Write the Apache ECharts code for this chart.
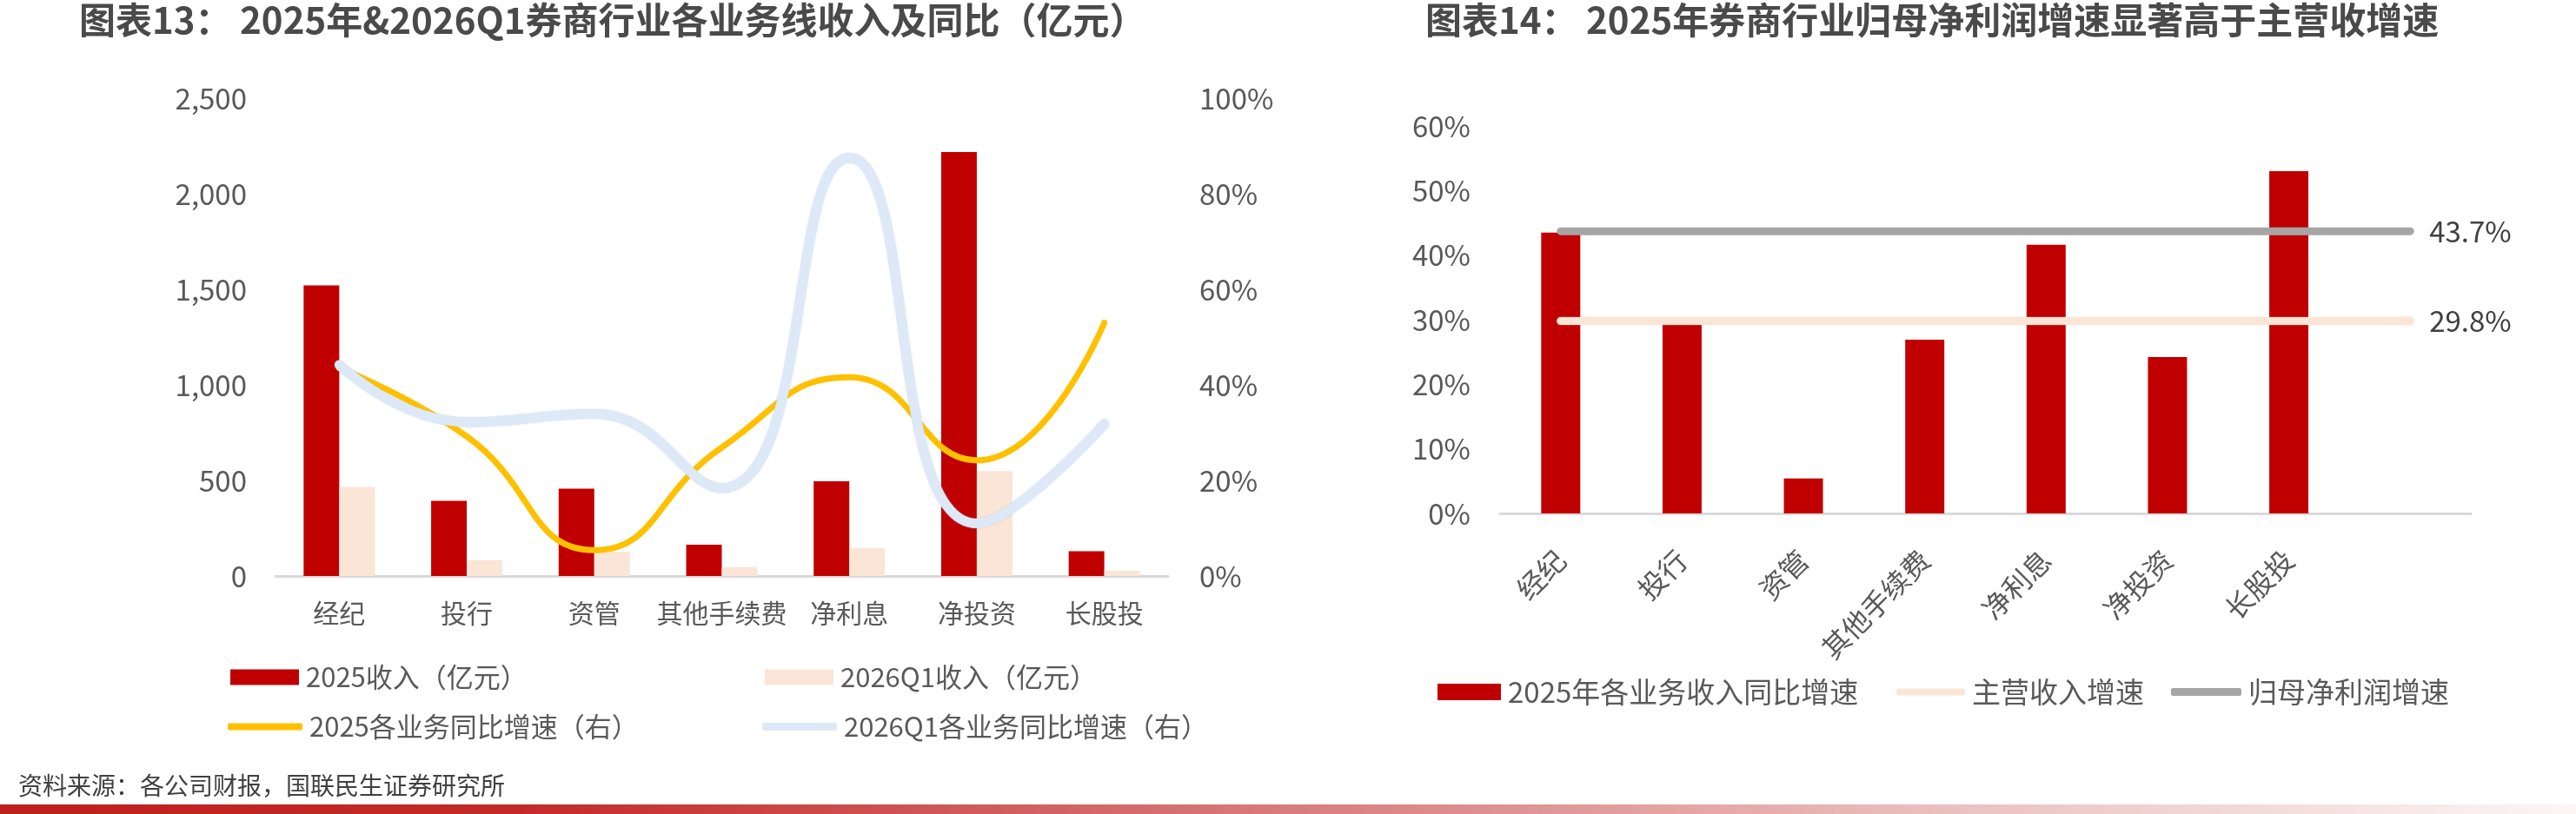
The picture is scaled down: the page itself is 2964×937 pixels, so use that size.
<!DOCTYPE html>
<html>
<head>
<meta charset="utf-8">
<script src="https://cdn.jsdelivr.net/npm/echarts/dist/echarts.min.js"></script>
<style>
  html, body { margin: 0; padding: 0; background: #fff; }
  #main { width: 2964px; height: 937px; }
</style>
</head>
<body>
<div id="main"></div>
<script>
// 图表13 数据
const categories = ['经纪', '投行', '资管', '其他手续费', '净利息', '净投资', '长股投'];
const revenue2025 = [1520, 393, 457, 164, 495, 2218, 130];     // 亿元
const revenue2026Q1 = [466, 83, 126, 45, 146, 549, 27];        // 亿元
const yoy2025 = [43.5, 29.2, 5.4, 26.9, 41.6, 24.2, 53.0];     // %
const yoy2026Q1 = [44.2, 32.2, 33.9, 18.4, 87.5, 11.0, 31.8];  // %

// 图表14 数据（最后一个类目留空，参考线延伸到那里）
const categories14 = ['经纪', '投行', '资管', '其他手续费', '净利息', '净投资', '长股投', ''];
const mainRevenueGrowth = [29.8, 29.8, 29.8, 29.8, 29.8, 29.8, 29.8, 29.8];
const netProfitGrowth = [43.7, 43.7, 43.7, 43.7, 43.7, 43.7, 43.7, 43.7];

const leftTicks = { min: 0, max: 2500, interval: 500 };
const rightTicks = { min: 0, max: 100, interval: 20 };
const chart14Ticks = { min: 0, max: 60, interval: 10 };

const FONT = '"Noto Sans CJK SC", "Noto Sans", sans-serif';
const GREY = '#595959';

const myChart = echarts.init(document.getElementById('main'), null, { renderer: 'canvas' });

const endLabel = {
  show: true, distance: 22, formatter: (p) => p.value + '%',
  fontSize: 33, color: '#404040', fontFamily: FONT
};

const legendBase = {
  padding: 0,
  itemGap: 0,
  selectedMode: false,
  textStyle: { fontFamily: FONT, color: GREY, fontSize: 31, padding: [0, 0, 0, 3] }
};
const bigText = Object.assign({}, legendBase.textStyle, { fontSize: 33 });

const option = {
  animation: false,
  backgroundColor: '#fff',
  textStyle: { fontFamily: FONT },
  title: [
    {
      text: '图表13： 2025年&2026Q1券商行业各业务线收入及同比（亿元）',
      left: 91, top: 2, padding: 0,
      textStyle: { fontFamily: FONT, fontSize: 42, fontWeight: 'bold', color: '#4a4a4a' }
    },
    {
      text: '图表14： 2025年券商行业归母净利润增速显著高于主营收增速',
      left: 1640, top: 2, padding: 0,
      textStyle: { fontFamily: FONT, fontSize: 42, fontWeight: 'bold', color: '#4a4a4a' }
    }
  ],
  legend: [
    Object.assign({}, legendBase, { data: ['2025收入（亿元）'], left: 265, top: 764,
      itemWidth: 79, itemHeight: 18, icon: 'rect' }),
    Object.assign({}, legendBase, { data: ['2026Q1收入（亿元）'], left: 880, top: 764,
      itemWidth: 79, itemHeight: 18, icon: 'rect' }),
    Object.assign({}, legendBase, { data: ['2025各业务同比增速（右）'], left: 262, top: 821,
      itemWidth: 86, itemHeight: 8, icon: 'roundRect' }),
    Object.assign({}, legendBase, { data: ['2026Q1各业务同比增速（右）'], left: 877, top: 821,
      itemWidth: 86, itemHeight: 9, icon: 'roundRect' }),
    Object.assign({}, legendBase, { data: ['2025年各业务收入同比增速'], left: 1654, top: 780,
      itemWidth: 73, itemHeight: 19, icon: 'rect', textStyle: bigText }),
    Object.assign({}, legendBase, { data: ['主营收入增速'], left: 2182, top: 780,
      itemWidth: 79, itemHeight: 8, icon: 'roundRect', textStyle: bigText }),
    Object.assign({}, legendBase, { data: ['归母净利润增速'], left: 2498, top: 780,
      itemWidth: 81, itemHeight: 9, icon: 'roundRect', textStyle: bigText })
  ],
  grid: [
    { left: 317, right: 1620, top: 113, bottom: 274 },
    { left: 1726, right: 121, top: 145, bottom: 346 }
  ],
  xAxis: [
    {
      type: 'category', gridIndex: 0, data: categories,
      axisLine: { lineStyle: { color: '#d9d9d9', width: 3 } },
      axisTick: { show: false },
      axisLabel: { fontFamily: FONT, fontSize: 30, color: GREY, margin: 28, interval: 0 }
    },
    {
      type: 'category', gridIndex: 1, data: categories14,
      axisLine: { lineStyle: { color: '#d9d9d9', width: 3 } },
      axisTick: { show: false },
      axisLabel: { fontFamily: FONT, fontSize: 32, color: GREY, margin: 48, interval: 0, rotate: 45 }
    }
  ],
  yAxis: [
    {
      type: 'value', gridIndex: 0, min: leftTicks.min, max: leftTicks.max, interval: leftTicks.interval,
      splitLine: { show: false }, axisLine: { show: false }, axisTick: { show: false },
      axisLabel: { fontFamily: FONT, fontSize: 33, color: GREY, margin: 33,
        formatter: (v) => v.toLocaleString('en-US') }
    },
    {
      type: 'value', gridIndex: 0, position: 'right',
      min: rightTicks.min, max: rightTicks.max, interval: rightTicks.interval,
      splitLine: { show: false }, axisLine: { show: false }, axisTick: { show: false },
      axisLabel: { fontFamily: FONT, fontSize: 33, color: GREY, margin: 36, formatter: '{value}%' }
    },
    {
      type: 'value', gridIndex: 1,
      min: chart14Ticks.min, max: chart14Ticks.max, interval: chart14Ticks.interval,
      splitLine: { show: false }, axisLine: { show: false }, axisTick: { show: false },
      axisLabel: { fontFamily: FONT, fontSize: 33, color: GREY, margin: 34, formatter: '{value}%' }
    }
  ],
  series: [
    {
      name: '2025收入（亿元）', type: 'bar', xAxisIndex: 0, yAxisIndex: 0,
      data: revenue2025, barWidth: 41, barGap: '0%',
      itemStyle: { color: '#c00000' }
    },
    {
      name: '2026Q1收入（亿元）', type: 'bar', xAxisIndex: 0, yAxisIndex: 0,
      data: revenue2026Q1, barWidth: 41, barGap: '0%',
      itemStyle: { color: '#fbe5d6' }
    },
    {
      name: '2025各业务同比增速（右）', type: 'line', xAxisIndex: 0, yAxisIndex: 1,
      data: yoy2025, smooth: 0.5, symbol: 'none',
      lineStyle: { color: '#ffc000', width: 7, cap: 'round' },
      itemStyle: { color: '#ffc000' }
    },
    {
      name: '2026Q1各业务同比增速（右）', type: 'line', xAxisIndex: 0, yAxisIndex: 1,
      data: yoy2026Q1, smooth: 0.5, symbol: 'none',
      lineStyle: { color: '#dde9f6', width: 11, cap: 'round',
        shadowColor: 'rgba(160,190,220,0.6)', shadowBlur: 2 },
      itemStyle: { color: '#dde9f6' }
    },
    {
      name: '2025年各业务收入同比增速', type: 'bar', xAxisIndex: 1, yAxisIndex: 2,
      data: yoy2025, barWidth: 45,
      itemStyle: { color: '#c00000' }
    },
    {
      name: '主营收入增速', type: 'line', xAxisIndex: 1, yAxisIndex: 2,
      data: mainRevenueGrowth, symbol: 'none', endLabel: endLabel,
      lineStyle: { color: '#fbe5d6', width: 9, cap: 'round',
        shadowColor: 'rgba(240,190,160,0.6)', shadowBlur: 2 },
      itemStyle: { color: '#fbe5d6' }
    },
    {
      name: '归母净利润增速', type: 'line', xAxisIndex: 1, yAxisIndex: 2,
      data: netProfitGrowth, symbol: 'none', endLabel: endLabel,
      lineStyle: { color: '#a5a5a5', width: 9, cap: 'round' },
      itemStyle: { color: '#a5a5a5' }
    }
  ],
  graphic: [
    {
      type: 'text', left: 21, top: 890,
      style: { text: '资料来源：各公司财报，国联民生证券研究所', fontFamily: FONT,
        fontSize: 28, fill: '#404040' }
    },
    {
      type: 'rect', left: 0, top: 926,
      shape: { width: 2964, height: 11 },
      style: {
        fill: new echarts.graphic.LinearGradient(0, 0, 1, 0, [
          { offset: 0, color: '#bf1f1d' },
          { offset: 0.2, color: '#c22a28' },
          { offset: 0.5, color: '#d87c7c' },
          { offset: 0.75, color: '#ebbebe' },
          { offset: 1, color: '#fcf6f6' }
        ])
      }
    }
  ]
};

myChart.setOption(option);
window.addEventListener('resize', () => myChart.resize());
</script>
</body>
</html>
